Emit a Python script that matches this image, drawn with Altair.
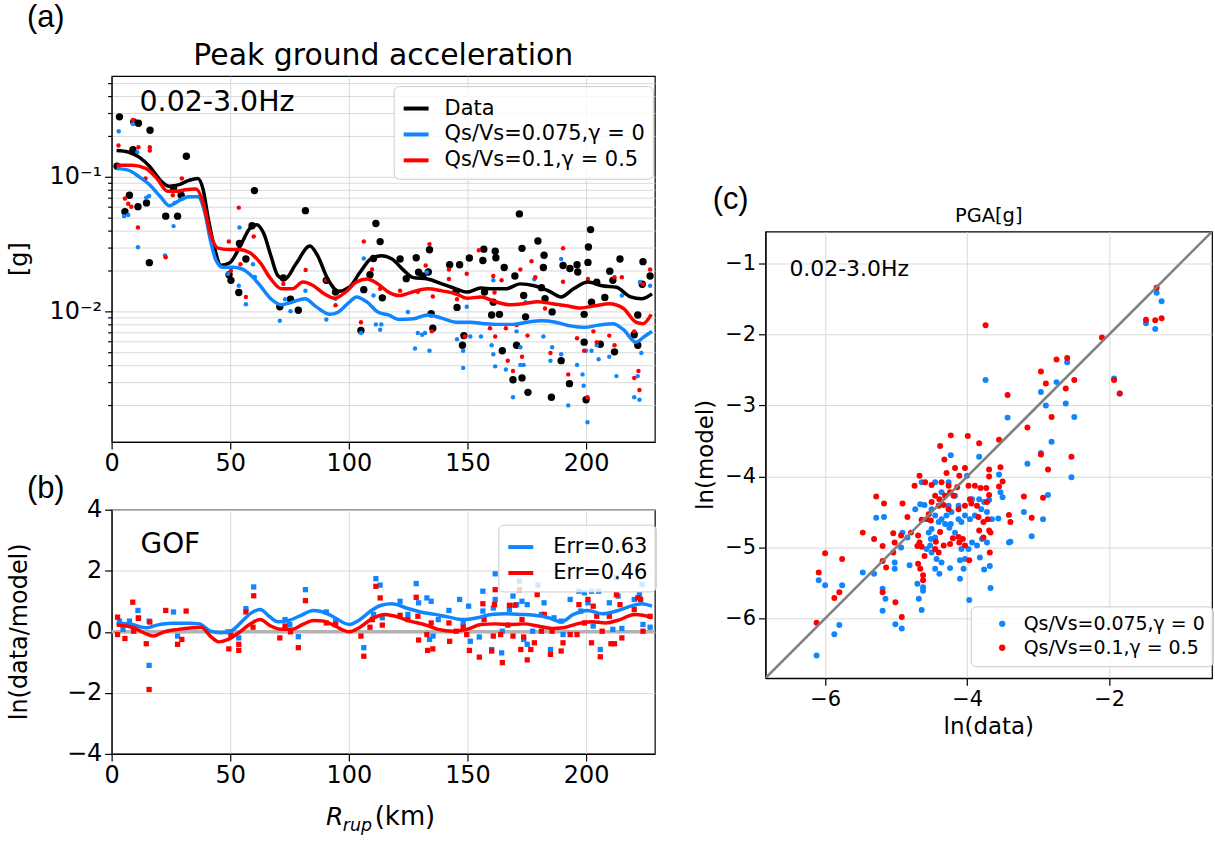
import altair as alt
import pandas as pd

FONT = "DejaVu Sans"
PFONT = "Liberation Sans"
BLUE = "#0f86ff"
RED = "#ff0000"
GRID = "#d9d9d9"
LAB_DATA = "Data"
LAB_BLUE = "Qs/Vs=0.075,γ = 0"
LAB_RED = "Qs/Vs=0.1,γ = 0.5"
ERR_BLUE = "Err=0.63"
ERR_RED = "Err=0.46"

W_A, H_A = 545, 367
W_B, H_B = 545, 245
W_C, H_C = 448, 448
R_MAX = 229
PGA_DOMAIN = [0.00107, 0.56]
GOF_DOMAIN = [-4, 4]
LN_DOMAIN = [-6.84, -0.55]

# ---------------- panel (a): observed and simulated PGA ----------------
data_R = [3.3, 2.3, 5.6, 7.5, 11.1, 9.0, 9.3, 11.3, 16.2, 14.7, 15.9, 22.8, 27.8, 26.1, 31.5, 29.3,
          49.5, 50.3, 53.6, 53.9, 56.6, 59.2, 60.2, 70.9, 75.4, 78.7, 81.7, 72.4, 90.5, 94.4,
          105.1, 106.3, 108.9, 111.4, 113.2, 110.4, 114.1, 121.6, 128.4, 124.2, 129.4, 131.2,
          134.0, 133.5, 135.4, 134.7, 142.5, 145.2, 146.7, 148.5, 147.9, 145.6, 150.8, 156.5,
          156.9, 161.7, 162.0, 157.2, 160.9, 160.2, 163.5, 164.7, 165.5, 169.2, 170.0, 170.7,
          171.9, 173.0, 173.0, 173.7, 174.5, 175.5, 179.7, 181.2, 182.3, 182.0, 182.7, 185.4,
          185.7, 189.5, 190.3, 193.0, 193.2, 196.2, 196.5, 199.2, 200.0, 200.8, 201.0, 201.9,
          199.2, 202.3, 204.5, 206.0, 207.9, 210.0, 211.3, 212.0, 214.3, 220.3, 221.8, 224.0,
          223.7, 227.0, 221.8]
data_pga = [0.279, 0.120, 0.055, 0.073, 0.060, 0.159, 0.256, 0.25, 0.222, 0.064, 0.023, 0.051, 0.051, 0.083, 0.142, 0.073,
            0.0187, 0.017, 0.0138, 0.032, 0.0245, 0.0433, 0.079, 0.0108, 0.0123, 0.0102, 0.056, 0.0177, 0.017, 0.0139,
            0.0072, 0.0145, 0.0187, 0.045, 0.033, 0.0247, 0.0126, 0.0245, 0.025, 0.0175, 0.0195, 0.0183,
            0.0287, 0.0196, 0.0075, 0.0096, 0.0222, 0.014, 0.0222, 0.0066, 0.0056, 0.0107, 0.0249, 0.0239,
            0.029, 0.028, 0.025, 0.0139, 0.0117, 0.0094, 0.0095, 0.0051, 0.0212, 0.0031, 0.0183, 0.0056,
            0.053, 0.0294, 0.0032, 0.0131, 0.0091, 0.0025, 0.0333, 0.015, 0.0261, 0.0212, 0.0124, 0.0023,
            0.0099, 0.0043, 0.0219, 0.0029, 0.0208, 0.0222, 0.0196, 0.0095, 0.0022, 0.0231, 0.0301, 0.0405,
            0.0059, 0.0117, 0.0165, 0.0057, 0.0127, 0.0199, 0.017, 0.005, 0.0245, 0.0067, 0.0094, 0.0234,
            0.0159, 0.0183, 0.0056]

blue_R = [3.0, 5.3, 7.0, 9.0, 10.8, 11.1, 14.6, 15.8, 22.5, 26.1, 26.6, 30.0, 49.1, 53.6, 53.9,
          56.6, 59.6, 60.4, 70.9, 73.1, 75.4, 81.7, 90.5, 94.4, 105.1, 106.3, 110.4, 111.4, 113.7, 113.2,
          124.9, 127.9, 129.1, 130.9, 132.9, 134.0, 132.1, 145.6, 148.2, 148.2, 149.7, 151.2, 155.7, 160.2, 160.9,
          161.7, 160.9, 166.2, 169.2, 170.7, 172.3, 172.3, 173.7, 174.5, 178.2, 182.0, 185.0, 185.7, 189.5, 189.5,
          192.5, 196.2, 198.5, 199.0, 200.6, 200.0, 202.3, 204.5, 205.3, 209.8, 212.8, 215.1, 220.3, 222.5, 221.8,
          223.3, 227.0, 222.7]
blue_pga = [0.218, 0.051, 0.052, 0.247, 0.152, 0.030, 0.070, 0.072, 0.026, 0.043, 0.064, 0.069, 0.019, 0.0155, 0.042,
            0.0113, 0.0224, 0.018, 0.0085, 0.0123, 0.0100, 0.0142, 0.0087, 0.0124, 0.0069, 0.0247, 0.0131, 0.0080, 0.0080, 0.0073,
            0.0099, 0.0053, 0.0069, 0.0067, 0.0195, 0.0051, 0.0069, 0.0062, 0.0038, 0.0051, 0.0108, 0.0065, 0.0065, 0.0056, 0.0048,
            0.0039, 0.0170, 0.0037, 0.0023, 0.0071, 0.0054, 0.0040, 0.0040, 0.0117, 0.0173, 0.0065, 0.0043, 0.0054, 0.0245, 0.0048,
            0.0020, 0.0040, 0.0034, 0.0028, 0.0015, 0.0051, 0.0051, 0.0056, 0.0044, 0.0046, 0.0033, 0.0131, 0.0023, 0.0022, 0.0033,
            0.0049, 0.0155, 0.0165]

red_R = [2.9, 5.6, 7.0, 8.3, 9.0, 11.3, 11.1, 14.3, 16.1, 16.1, 22.8, 29.6, 25.8, 49.4, 50.3,
         53.6, 54.3, 56.6, 59.9, 72.4, 81.8, 90.5, 94.4, 105.1, 106.3, 109.8, 113.2, 121.6, 129.1, 134.0,
         132.4, 135.0, 135.4, 142.2, 142.2, 145.6, 148.9, 149.7, 154.8, 159.5, 160.9, 161.7, 161.4, 164.4, 166.2,
         167.0, 169.2, 170.7, 172.3, 173.0, 175.3, 177.0, 178.6, 182.7, 185.0, 190.3, 190.3, 192.5, 196.2, 199.2,
         200.6, 200.8, 203.1, 204.5, 209.8, 212.0, 212.0, 215.1, 220.3, 222.1, 222.5, 224.0, 227.0, 220.3]
red_pga = [0.171, 0.069, 0.063, 0.060, 0.264, 0.166, 0.042, 0.097, 0.166, 0.157, 0.0252, 0.097, 0.073, 0.033, 0.020,
           0.059, 0.0224, 0.0128, 0.036, 0.0160, 0.0203, 0.0170, 0.0111, 0.0083, 0.033, 0.0205, 0.0147, 0.0142, 0.0140, 0.0316,
           0.0219, 0.0071, 0.0129, 0.0205, 0.0174, 0.0123, 0.0065, 0.0190, 0.0284, 0.0075, 0.0183, 0.0065, 0.0138, 0.0170, 0.0075,
           0.0043, 0.0036, 0.0079, 0.0205, 0.0046, 0.0066, 0.0236, 0.0179, 0.0105, 0.0049, 0.0294, 0.0166, 0.0034, 0.0063, 0.0051,
           0.0023, 0.0174, 0.0071, 0.0059, 0.0066, 0.0056, 0.0179, 0.0179, 0.0032, 0.0036, 0.0026, 0.0159, 0.0205, 0.0071]

# smoothed curves
curve_data_R = [2.1, 7, 11.6, 16.1, 20.6, 24.3, 28.1, 32.6, 36.3, 38.6, 40.8, 43.1, 46.1, 49.8, 54.4, 58.1,
                61.1, 64.1, 67.1, 70.1, 73.1, 77.6, 83.6, 86.6, 91.1, 95.6, 100.2, 104.7, 109.2, 113.7, 118.2,
                122.7, 127.2, 133.2, 139.2, 145.2, 149.7, 155.7, 160.2, 166.2, 172.2, 178.2, 184.2, 189.5, 194.7,
                200.8, 206.8, 212.8, 218.8, 223.3, 227.8]
curve_data_pga = [0.157, 0.153, 0.140, 0.119, 0.094, 0.085, 0.087, 0.094, 0.097, 0.080, 0.048, 0.031, 0.022, 0.023, 0.031, 0.041,
                  0.044, 0.038, 0.026, 0.0184, 0.0174, 0.0224, 0.0306, 0.0264, 0.0174, 0.0141, 0.0151, 0.0195, 0.0245, 0.0259, 0.0245,
                  0.0205, 0.0178, 0.0174, 0.0160, 0.0147, 0.0139, 0.0149, 0.0147, 0.0147, 0.0160, 0.0155, 0.0142, 0.0128, 0.0147,
                  0.0165, 0.0155, 0.0151, 0.0128, 0.0124, 0.0135]
curve_red_R = [2.1, 8.6, 14.6, 19.1, 23.6, 27.3, 31.1, 35.6, 38.6, 41.6, 44.6, 49.1, 53.6, 58.1, 62.6, 67.1,
               71.6, 76.1, 80.6, 85.1, 89.6, 94.1, 98.6, 103.2, 107.7, 112.2, 116.7, 121.2, 127.2, 133.2, 139.2,
               145.2, 149.7, 155.7, 161.7, 167.7, 173.7, 179.7, 185.7, 191.7, 197.7, 203.8, 209.8, 215.8, 221.0,
               224.0, 227.5]
curve_red_pga = [0.122, 0.122, 0.115, 0.097, 0.078, 0.078, 0.080, 0.081, 0.064, 0.038, 0.0296, 0.0288, 0.0288, 0.0274, 0.0230, 0.0174,
                 0.0147, 0.0147, 0.0165, 0.0155, 0.0135, 0.0125, 0.0139, 0.0165, 0.0174, 0.0160, 0.0139, 0.0131, 0.0140, 0.0147, 0.0142,
                 0.0135, 0.0125, 0.0128, 0.0118, 0.0112, 0.0114, 0.0118, 0.0114, 0.0110, 0.0106, 0.0110, 0.0114, 0.0105, 0.0083,
                 0.0081, 0.0095]
curve_blue_R = [2.1, 7, 11.6, 16.1, 20.6, 24.3, 28.1, 32.6, 36.3, 39.3, 41.6, 43.8, 46.8, 51.4, 55.1, 58.9,
                62.6, 67.1, 71.6, 76.1, 81.4, 86.6, 91.9, 95.6, 100.2, 103.2, 107.7, 112.2, 116.7, 121.2, 127.2,
                133.2, 139.2, 145.2, 151.2, 157.2, 163.2, 169.2, 175.2, 181.2, 187.2, 193.3, 199.3, 205.3, 211.3,
                215.8, 221.0, 224.6, 227.8]
curve_blue_pga = [0.115, 0.112, 0.100, 0.087, 0.071, 0.061, 0.066, 0.071, 0.071, 0.054, 0.034, 0.0244, 0.0213, 0.0213, 0.0206, 0.0184,
                  0.0155, 0.0124, 0.0112, 0.0117, 0.0124, 0.0107, 0.0095, 0.0099, 0.0117, 0.0128, 0.0117, 0.0099, 0.0094, 0.0087, 0.0088,
                  0.0094, 0.0089, 0.0083, 0.0083, 0.0081, 0.0080, 0.0080, 0.0083, 0.0085, 0.0083, 0.0078, 0.0076, 0.0079, 0.0081,
                  0.0073, 0.0059, 0.0065, 0.0071]

# ---------------- panel (b): GOF ----------------
gof_blue_R = [3.3, 4.8, 7.5, 11.1, 11.3, 15.8, 15.8, 26.1, 27.8, 49.1, 53.6, 56.6, 59.9, 73.1, 75.1,
              78.7, 81.7, 90.5, 94.4, 106.3, 110.4, 111.4, 113.2, 114.1, 121.6, 124.9, 128.4, 129.4, 132.9, 134.0,
              135.5, 134.7, 137.7, 142.2, 146.7, 148.2, 150.5, 151.2, 155.0, 156.5, 156.5, 160.2, 160.9, 161.7, 161.7,
              164.4, 164.7, 167.7, 169.2, 170.7, 171.9, 173.0, 173.7, 175.2, 175.2, 177.5, 179.7, 181.2, 182.3, 185.0,
              186.5, 189.5, 190.3, 193.3, 197.0, 197.8, 199.3, 200.8, 202.3, 203.0, 205.3, 206.0, 209.8, 211.3, 212.8,
              213.5, 215.1, 220.3, 222.5, 223.6, 224.0, 227.0]
gof_blue = [0.35, 0.08, 0.35, 0.70, 0.46, 0.35, -1.10, 0.65, -0.14, 0.0, -0.20, 0.76, 1.47, 0.40, 0.24,
            -0.16, 1.38, 0.65, 0.33, -0.52, 0.57, 1.74, 1.53, 0.46, 1.00, 0.57, 1.58, 0.95, 1.11, -0.25,
            -0.14, 1.0, 0.40, 0.70, 1.06, 0.29, 0.84, -0.31, -0.17, 1.33, 0.68, -0.58, 0.78, 1.90, 1.06,
            -0.69, 0.02, 0.73, 1.17, 0.89, 1.66, 1.00, -0.25, 0.89, -0.41, 0.02, 1.53, 0.57, 0.95, -0.58,
            0.46, 0.35, -0.09, 1.06, 1.33, 0.68, 1.28, 0.95, 1.33, 0.19, 1.33, -0.58, 0.95, 0.08, 1.77,
            1.17, 0.11, 1.06, 1.22, 1.55, 0.24, 0.15]
gof_red_R = [2.5, 2.5, 5.6, 8.9, 9.3, 11.3, 14.6, 16.1, 15.8, 22.8, 27.8, 29.6, 31.4, 49.4, 50.3,
             53.6, 53.6, 56.6, 59.6, 59.9, 70.9, 73.1, 75.4, 78.7, 81.7, 90.5, 94.4, 105.1, 106.3, 108.9,
             109.9, 111.4, 113.2, 114.1, 121.6, 124.9, 128.4, 129.1, 129.4, 132.9, 133.2, 135.4, 134.7, 142.2, 142.5,
             145.2, 148.2, 149.7, 150.8, 155.0, 156.5, 157.0, 160.2, 160.9, 161.7, 161.4, 164.0, 164.7, 167.0, 167.7,
             169.2, 170.0, 171.9, 172.5, 173.0, 173.7, 175.2, 176.7, 178.2, 179.4, 181.2, 182.4, 185.0, 185.7, 189.5,
             190.3, 193.3, 196.2, 197.0, 199.3, 200.8, 202.3, 203.0, 204.5, 206.0, 206.8, 209.8, 210.5, 212.0, 212.8,
             214.3, 215.1, 220.3, 221.8, 223.0, 224.0, 227.0]
gof_red = [0.48, -0.09, -0.22, 0.97, 0.02, 0.44, -0.39, 0.32, -1.89, 0.70, -0.41, -0.25, 0.68, -0.56, -0.11,
           -0.61, -0.41, 0.65, 0.15, 1.18, -0.20, 0.19, 0.0, -0.52, 1.02, 0.29, 0.24, -0.14, -0.80, 0.15,
           0.40, 1.49, 1.11, 0.22, 0.54, 0.40, 1.13, 0.51, -0.27, -0.09, -0.61, -0.56, 0.29, 0.29, -0.31,
           0.02, 0.15, -0.09, -0.61, -0.83, 0.92, 0.40, -0.63, -0.14, 1.38, 0.89, -0.09, -1.01, 0.22, 0.87,
           -0.14, 0.87, 1.38, -0.58, 0.40, -0.17, -0.92, -0.58, -0.36, 1.22, 0.02, 0.57, -0.74, 0.02, -0.63,
           -0.36, -0.09, -0.09, 0.89, 0.29, 1.06, -0.36, 0.84, 0.51, -0.82, 0.02, 0.51, -0.39, -0.39, 1.22,
           0.89, -0.20, 0.73, 1.11, 1.06, 0.02, 0.51]
gofcurve_blue_R = [2.1, 8.6, 14.6, 19.1, 25.1, 32.6, 37.1, 41.6, 46.1, 50.6, 55.1, 58.9, 62.6, 66.4, 70.1,
                   74.6, 79.1, 85.1, 89.6, 94.1, 100.2, 104.7, 109.2, 113.7, 118.2, 124.2, 130.2, 136.2, 142.2,
                   148.2, 154.2, 160.2, 166.2, 172.2, 178.2, 184.2, 189.5, 194.7, 200.8, 206.8, 212.8, 218.8,
                   223.3, 227.8]
gofcurve_blue = [0.28, 0.24, 0.13, 0.22, 0.28, 0.28, 0.26, 0.02, -0.03, 0.04, 0.35, 0.62, 0.73, 0.51, 0.33,
                 0.37, 0.51, 0.70, 0.64, 0.46, 0.24, 0.40, 0.68, 0.87, 0.92, 0.78, 0.65, 0.57, 0.48,
                 0.40, 0.46, 0.57, 0.59, 0.57, 0.54, 0.46, 0.33, 0.57, 0.70, 0.59, 0.68, 0.84,
                 0.92, 0.84]
gofcurve_red_R = [2.1, 8.6, 14.6, 17.5, 22.1, 28.1, 34.1, 37.8, 41.6, 45.3, 49.1, 53.6, 58.1, 62.6, 67.1,
                  71.6, 76.1, 80.6, 85.1, 89.6, 94.1, 100.2, 104.7, 109.2, 115.2, 119.7, 125.7, 131.7, 137.7,
                  143.7, 149.7, 155.7, 161.7, 167.7, 173.7, 179.7, 185.7, 190.3, 196.2, 202.3, 208.3, 214.3,
                  220.3, 224.0, 227.8]
gofcurve_red = [0.22, 0.15, -0.07, -0.14, 0.0, 0.08, 0.13, 0.15, -0.14, -0.33, -0.25, -0.03, 0.24, 0.40, 0.19,
                0.08, 0.08, 0.24, 0.37, 0.35, 0.19, 0.0, 0.15, 0.40, 0.57, 0.51, 0.35, 0.24, 0.08,
                0.02, 0.08, 0.24, 0.26, 0.24, 0.26, 0.19, 0.11, 0.13, 0.26, 0.33, 0.29, 0.40,
                0.57, 0.54, 0.46]

# ---------------- panel (c): ln(model) vs ln(data) ----------------
c_blue_x = [-1.33, -1.26, -1.48, -1.35, -1.93, -1.85, -2.59, -2.74, -2.96, -2.89,
            -2.61, -2.49, -3.74, -3.43, -2.81, -3.15, -2.96, -2.53, -2.86, -3.20,
            -2.93, -3.09, -3.41, -3.39, -3.83, -4.23, -4.00, -3.55, -3.53, -3.50,
            -3.69, -3.56, -3.65, -3.72, -3.80, -3.89, -3.96, -4.03, -4.08, -4.12,
            -4.22, -4.29, -4.36, -4.23, -4.31, -4.40, -4.45, -4.50, -4.54, -4.51,
            -4.45, -4.52, -4.57, -4.50, -4.43, -4.36, -4.45, -4.39, -4.24, -4.10,
            -4.05, -4.03, -4.10, -4.08, -3.98, -3.93, -3.86, -3.79, -3.72, -3.82,
            -3.76, -3.68, -3.67, -3.97, -4.25, -4.17, -4.12, -4.26, -3.93, -3.83,
            -3.76, -4.17, -4.36, -4.50, -4.60, -4.66, -4.73, -4.64, -4.26, -4.45,
            -4.70, -4.62, -4.68, -4.64, -4.62, -4.81, -4.93, -4.91, -4.84, -5.02,
            -5.02, -5.15, -5.19, -5.19, -5.17, -5.28, -5.31, -5.47, -5.01, -4.92,
            -6.09, -6.00, -5.76, -5.80, -5.87, -6.12]
c_blue_y = [-1.41, -1.53, -1.84, -1.92, -2.62, -2.83, -2.39, -2.67, -2.81, -3.00,
            -2.97, -3.16, -2.64, -3.17, -3.51, -3.82, -3.67, -4.01, -4.26, -4.50,
            -4.60, -4.84, -4.93, -4.92, -3.72, -3.70, -3.99, -3.97, -4.22, -4.29,
            -4.33, -4.59, -4.60, -4.50, -4.46, -4.55, -4.60, -4.55, -4.64, -4.60,
            -4.50, -4.55, -4.60, -4.67, -4.67, -4.64, -4.55, -4.74, -4.79, -4.88,
            -4.86, -4.97, -5.02, -5.07, -5.16, -5.21, -5.30, -5.37, -5.29, -5.44,
            -5.30, -5.16, -5.18, -5.02, -5.02, -4.93, -4.97, -4.88, -4.93, -5.14,
            -5.31, -5.26, -5.57, -5.74, -4.72, -4.79, -4.41, -4.41, -4.32, -4.32,
            -4.36, -4.27, -4.22, -4.46, -4.40, -4.39, -4.46, -4.08, -4.08, -4.08,
            -5.51, -5.56, -5.72, -5.88, -5.61, -5.25, -5.00, -4.79, -4.86, -5.21,
            -5.30, -5.72, -5.89, -5.58, -4.57, -4.58, -5.37, -5.35, -6.08, -6.14,
            -5.46, -5.53, -5.53, -6.09, -6.22, -6.52]
c_red_x = [-1.33, -1.48, -1.35, -1.26, -2.10, -1.93, -1.85, -3.74, -2.74, -2.59,
           -2.96, -2.89, -2.61, -2.49, -3.43, -2.81, -3.15, -2.96, -2.53, -2.86,
           -3.20, -2.93, -3.09, -3.41, -3.39, -4.23, -3.99, -3.83, -4.38, -4.32,
           -3.55, -3.53, -3.69, -3.50, -3.55, -3.69, -3.69, -3.73, -3.81, -3.89,
           -3.98, -4.03, -4.11, -4.17, -4.29, -4.36, -4.26, -4.14, -4.50, -4.74,
           -4.67, -4.59, -4.19, -4.24, -4.31, -4.39, -4.40, -4.33, -4.26, -4.12,
           -4.03, -3.94, -3.86, -3.72, -3.84, -3.77, -3.71, -3.69, -3.83, -3.67,
           -3.77, -3.68, -3.97, -4.03, -4.06, -4.11, -4.24, -4.38, -4.44, -4.40,
           -4.33, -4.51, -4.54, -4.64, -4.57, -4.69, -4.67, -4.70, -4.64, -4.60,
           -4.69, -4.66, -4.62, -4.62, -4.50, -4.45, -4.84, -4.91, -5.17, -5.28,
           -4.79, -4.93, -5.04, -5.02, -5.04, -5.19, -5.31, -5.47, -5.19, -5.14,
           -5.19, -5.01, -4.92, -6.09, -6.00, -5.76, -5.80, -5.87, -6.12, -3.96,
           -4.20, -4.45, -4.12]
c_red_y = [-1.34, -1.79, -1.80, -1.77, -2.04, -2.64, -2.83, -1.87, -2.35, -2.33,
           -2.52, -2.69, -2.76, -2.64, -2.85, -3.16, -3.31, -3.69, -3.72, -3.90,
           -4.28, -4.30, -4.58, -4.54, -4.64, -3.42, -3.43, -3.53, -3.57, -3.76,
           -3.48, -3.87, -3.90, -4.07, -4.14, -4.00, -4.26, -4.16, -4.16, -4.13,
           -4.13, -3.88, -3.99, -3.88, -3.95, -4.08, -4.13, -4.15, -4.12, -4.13,
           -3.99, -4.08, -4.27, -4.22, -4.27, -4.32, -4.41, -4.40, -4.46, -4.46,
           -4.41, -4.38, -4.41, -4.36, -4.57, -4.64, -4.60, -4.76, -4.76, -4.79,
           -4.86, -5.07, -5.18, -4.97, -4.88, -4.93, -4.95, -4.78, -4.92, -5.07,
           -4.97, -4.62, -4.53, -4.61, -4.60, -4.83, -4.93, -4.98, -4.99, -5.12,
           -5.23, -5.30, -5.39, -5.46, -4.36, -4.27, -4.57, -4.38, -4.38, -4.28,
           -4.79, -4.83, -4.80, -4.93, -5.07, -4.98, -4.88, -4.79, -5.19, -5.28,
           -5.63, -5.77, -5.98, -5.35, -5.08, -5.16, -5.63, -5.71, -6.06, -4.32,
           -4.87, -5.02, -4.85]

x_ticks = [0, 50, 100, 150, 200]
pga_ticks = [round(k * 10.0 ** e, 6) for e in (-3, -2, -1) for k in range(1, 10)]
pga_ticks = [v for v in pga_ticks if PGA_DOMAIN[0] <= v <= PGA_DOMAIN[1]]
gof_ticks = [-4, -2, 0, 2, 4]
ln_x_ticks = [-6, -4, -2]
ln_y_ticks = [-6, -5, -4, -3, -2, -1]

ANCHOR = pd.DataFrame({"k": [0]})


def label(text, x, y, size, font=FONT, angle=0, align="left", baseline="alphabetic", style="normal"):
    return alt.Chart(ANCHOR).mark_text(
        text=text, font=font, fontSize=size, angle=angle, align=align,
        baseline=baseline, fontStyle=style, color="black"
    ).encode(x=alt.value(x), y=alt.value(y))


# ---------- panel (a) ----------
xs_a = alt.Scale(domain=[0, R_MAX], nice=False, zero=False)
ys_a = alt.Scale(type="log", domain=PGA_DOMAIN, nice=False)
ax_x_a = alt.Axis(values=x_ticks, title=None, grid=True, labelFlush=False, labelFontSize=24,
                  tickSize=7, labelPadding=3)
ax_y_a = alt.Axis(values=pga_ticks, title=None, grid=True, labelOverlap=False, labelFontSize=24,
                  labelExpr="datum.value === 0.1 ? '10⁻¹' : (datum.value === 0.01 ? '10⁻²' : '')",
                  tickSize={"condition": {"test": "datum.value === 0.1 || datum.value === 0.01", "value": 7},
                            "value": 4},
                  labelPadding=3)


def pts_a(R, v, color, size):
    df = pd.DataFrame({"R": R, "v": v})
    return alt.Chart(df).mark_circle(color=color, size=size, opacity=1).encode(
        x=alt.X("R:Q", scale=xs_a, axis=ax_x_a),
        y=alt.Y("v:Q", scale=ys_a, axis=ax_y_a),
    )


curves_a = pd.concat([
    pd.DataFrame({"R": curve_data_R, "v": curve_data_pga, "sa": LAB_DATA}),
    pd.DataFrame({"R": curve_blue_R, "v": curve_blue_pga, "sa": LAB_BLUE}),
    pd.DataFrame({"R": curve_red_R, "v": curve_red_pga, "sa": LAB_RED}),
])
lines_a = alt.Chart(curves_a).mark_line(strokeWidth=3.5, interpolate="monotone", clip=True).encode(
    x=alt.X("R:Q", scale=xs_a, axis=ax_x_a),
    y=alt.Y("v:Q", scale=ys_a, axis=ax_y_a),
    color=alt.Color("sa:N", sort=[LAB_DATA, LAB_BLUE, LAB_RED],
                    scale=alt.Scale(domain=[LAB_DATA, LAB_BLUE, LAB_RED], range=["black", BLUE, RED]),
                    legend=alt.Legend(title=None, orient="none", legendX=283, legendY=10,
                                      symbolType="stroke", symbolSize=625, symbolStrokeWidth=4,
                                      labelFontSize=21, labelFont=FONT, labelLimit=400, labelOffset=14,
                                      padding=8, rowPadding=1, fillColor="rgba(255,255,255,0.8)",
                                      strokeColor="#cccccc", cornerRadius=5)),
)

panel_a = alt.layer(
    pts_a(data_R, data_pga, "black", 55),
    pts_a(blue_R, blue_pga, BLUE, 20),
    pts_a(red_R, red_pga, RED, 20),
    lines_a,
    label("0.02-3.0Hz", 28, 35, 28.5),
    label("Peak ground acceleration", W_A / 2, -11, 30, align="center"),
    label("(a)", -85, -49, 31, font=PFONT),
    label("[g]", -92, H_A / 2, 24, angle=270, align="center", baseline="middle"),
).properties(width=W_A, height=H_A)

# ---------- panel (b) ----------
xs_b = alt.Scale(domain=[0, R_MAX], nice=False, zero=False)
ys_b = alt.Scale(domain=GOF_DOMAIN, nice=False)
ax_x_b = alt.Axis(values=x_ticks, title=None, grid=True, labelFlush=False, labelFontSize=24,
                  tickSize=7, labelPadding=3)
ax_y_b = alt.Axis(values=gof_ticks, title=None, grid=True, labelFontSize=24, tickSize=7, labelPadding=3)

zero_b = alt.Chart(pd.DataFrame({"z": [0]})).mark_rule(color="#b3b3b3", strokeWidth=3.5).encode(
    y=alt.Y("z:Q", scale=ys_b, axis=ax_y_b))


def sq_b(R, v, color):
    df = pd.DataFrame({"R": R, "v": v})
    return alt.Chart(df).mark_square(color=color, size=28, opacity=1).encode(
        x=alt.X("R:Q", scale=xs_b, axis=ax_x_b),
        y=alt.Y("v:Q", scale=ys_b, axis=ax_y_b),
    )


curves_b = pd.concat([
    pd.DataFrame({"R": gofcurve_blue_R, "v": gofcurve_blue, "sb": ERR_BLUE}),
    pd.DataFrame({"R": gofcurve_red_R, "v": gofcurve_red, "sb": ERR_RED}),
])
lines_b = alt.Chart(curves_b).mark_line(strokeWidth=3.5, interpolate="monotone", clip=True).encode(
    x=alt.X("R:Q", scale=xs_b, axis=ax_x_b),
    y=alt.Y("v:Q", scale=ys_b, axis=ax_y_b),
    color=alt.Color("sb:N", sort=[ERR_BLUE, ERR_RED],
                    scale=alt.Scale(domain=[ERR_BLUE, ERR_RED], range=[BLUE, RED]),
                    legend=alt.Legend(title=None, orient="none", legendX=388, legendY=15,
                                      symbolType="stroke", symbolSize=625, symbolStrokeWidth=4,
                                      labelFontSize=21, labelFont=FONT, labelLimit=400, labelOffset=18,
                                      padding=8, rowPadding=1, fillColor="rgba(255,255,255,0.8)",
                                      strokeColor="#cccccc", cornerRadius=5)),
)

panel_b = alt.layer(
    zero_b,
    sq_b(gof_blue_R, gof_blue, BLUE),
    sq_b(gof_red_R, gof_red, RED),
    lines_b,
    label("GOF", 29, 43, 28),
    label("(b)", -85, -12, 31, font=PFONT),
    label("ln(data/model)", -92, H_B / 2, 24, angle=270, align="center", baseline="middle"),
    label("R", 215, 316, 25, style="italic"),
    label("rup", 232, 322, 17.5, style="italic"),
    label("(km)", 264, 316, 26),
).properties(width=W_B, height=H_B)

# ---------- panel (c) ----------
xs_c = alt.Scale(domain=LN_DOMAIN, nice=False, zero=False)
ys_c = alt.Scale(domain=LN_DOMAIN, nice=False, zero=False)
ax_x_c = alt.Axis(values=ln_x_ticks, title=None, grid=True, labelFontSize=21, tickSize=7, labelPadding=3)
ax_y_c = alt.Axis(values=ln_y_ticks, title=None, grid=True, labelFontSize=21, tickSize=7, labelPadding=3)

scatter_c = pd.concat([
    pd.DataFrame({"x": c_blue_x, "y": c_blue_y, "sc": LAB_BLUE}),
    pd.DataFrame({"x": c_red_x, "y": c_red_y, "sc": LAB_RED}),
])
pts_c = alt.Chart(scatter_c).mark_circle(size=36, opacity=1).encode(
    x=alt.X("x:Q", scale=xs_c, axis=ax_x_c),
    y=alt.Y("y:Q", scale=ys_c, axis=ax_y_c),
    color=alt.Color("sc:N", sort=[LAB_BLUE, LAB_RED],
                    scale=alt.Scale(domain=[LAB_BLUE, LAB_RED], range=[BLUE, RED]),
                    legend=alt.Legend(title=None, orient="none", legendX=206, legendY=376,
                                      symbolType="circle", symbolSize=40, symbolOffset=14,
                                      labelFontSize=19, labelFont=FONT, labelLimit=400, labelOffset=12,
                                      padding=8, rowPadding=4, fillColor="rgba(255,255,255,0.8)",
                                      strokeColor="#cccccc", cornerRadius=5)),
)
diag = alt.Chart(pd.DataFrame({"x": LN_DOMAIN, "y": LN_DOMAIN})).mark_line(
    color="#808080", strokeWidth=2.5, clip=True).encode(
    x=alt.X("x:Q", scale=xs_c, axis=ax_x_c),
    y=alt.Y("y:Q", scale=ys_c, axis=ax_y_c),
)

panel_c = alt.layer(
    pts_c,
    diag,
    label("0.02-3.0Hz", 24, 45, 22),
    label("PGA[g]", W_C / 2, -10, 19.5, align="center"),
    label("ln(data)", W_C / 2, 504, 23, align="center"),
    label("ln(model)", -60, H_C / 2, 23, angle=270, align="center", baseline="middle"),
).properties(width=W_C, height=H_C)

SPACER_H = 156
spacer_c = label("(c)", -53, 133, 31, font=PFONT).properties(
    width=W_C, height=SPACER_H, view=alt.ViewBackground(strokeOpacity=0))

left = alt.vconcat(panel_a, panel_b, spacing=68, bounds="flush").resolve_scale(
    x="independent", y="independent", color="independent").resolve_legend(color="independent")
right = alt.vconcat(spacer_c, panel_c, spacing=0, bounds="flush").resolve_scale(
    x="independent", y="independent", color="independent").resolve_legend(color="independent")

chart = alt.hconcat(left, right, spacing=36).resolve_scale(
    color="independent").resolve_legend(color="independent").properties(
    padding={"left": 7, "top": 0, "right": 0, "bottom": 5}
).configure_axis(
    labelFont=FONT, labelColor="black", tickColor="black", domainColor="black",
    gridColor=GRID, gridWidth=1, domainWidth=1.2, tickWidth=1.2,
).configure_view(
    stroke="black", strokeWidth=1.2
).configure_legend(
    labelColor="black"
)

chart.save("out.html", embed_options={"renderer": "svg", "actions": False})
